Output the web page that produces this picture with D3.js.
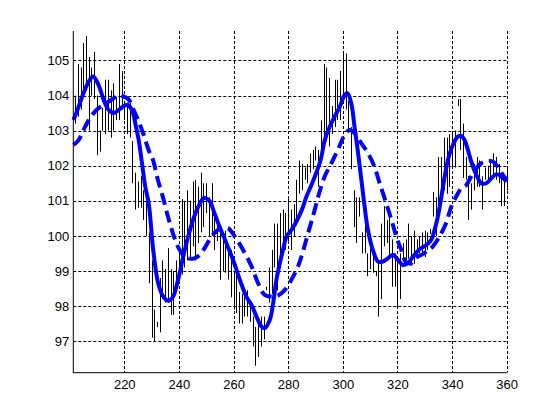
<!DOCTYPE html>
<html>
<head>
<meta charset="utf-8">
<script src="https://cdn.jsdelivr.net/npm/d3@7"></script>
<style>
  body { margin: 0; background: #fff; }
  svg { display: block; }
  .tick text { font-family: "Liberation Sans", Arial, sans-serif; font-size: 13px; fill: #000; }
</style>
</head>
<body>
<div id="chart"></div>
<script>
// daily high / low, first bar is day 202
let firstDay = 202
let highs = [
  104.0, 104.9, 104.8, 105.5, 105.7, 105.1, 104.8, 105.25, 104.0, 103.0,
  103.65, 104.45, 104.45, 104.15, 104.35, 103.95, 104.9, 104.7, 103.85, 103.8,
  103.8, 102.7, 101.8, 101.55, 101.7, 101.3, 101.0, 100.1, 99.3, 97.9,
  97.55, 98.8, 99.3, 99.05, 99.65, 99.05, 99.0, 99.3, 99.6, 101.05,
  101.0, 101.3, 101.0, 101.55, 101.6, 101.4, 101.8, 101.5, 101.5, 101.1,
  101.5, 100.65, 100.35, 100.25, 99.9, 100.15, 99.75, 99.6, 98.95, 99.2,
  98.4, 98.35, 98.25, 98.45, 98.1, 97.7, 97.4, 97.5, 97.7, 97.7,
  98.55, 99.1, 99.6, 100.35, 100.35, 100.65, 100.75, 100.65, 101.1, 100.75,
  100.9, 101.6, 102.15, 102.05, 101.95, 102.05, 102.35, 102.45, 102.55, 102.45,
  103.3, 104.9, 104.8, 104.5, 103.7, 104.45, 104.45, 104.7, 105.2, 105.2,
  103.85, 103.1, 101.3, 101.1, 101.1, 100.1, 100.65, 99.5, 100.0, 99.6,
  99.0, 99.3, 100.35, 100.85, 100.45, 100.65, 99.9, 99.5, 99.3, 99.5,
  99.8, 99.9, 100.35, 100.0, 100.15, 99.9, 100.0, 100.1, 100.15, 100.1,
  100.2, 101.25, 101.1, 102.25, 102.25, 102.8, 102.8, 102.9, 102.95, 103.0,
  103.9, 103.9, 103.2, 102.25, 101.7, 101.5, 102.05, 102.25, 102.15, 101.7,
  101.95, 102.0, 102.15, 102.35, 102.25, 102.05, 101.8, 101.7, 101.95
]
let lows = [
  103.2, 103.4, 103.6, 104.1, 104.2, 103.0, 104.0, 103.9, 102.3, 102.4,
  103.0, 102.9, 103.0, 102.8, 103.0, 103.3, 103.3, 103.6, 103.3, 102.9,
  102.8, 101.5, 100.75, 100.8, 100.8, 100.45, 100.0, 98.65, 97.1, 97.0,
  97.4, 97.25, 98.2, 98.1, 98.1, 97.75, 97.75, 98.4, 98.75, 98.9,
  99.1, 99.3, 99.4, 99.7, 99.3, 99.8, 100.1, 100.25, 100.65, 100.0,
  100.0, 99.6, 99.85, 98.75, 99.0, 98.95, 98.75, 98.25, 97.9, 97.8,
  97.5, 97.5, 97.7, 97.7, 97.55, 96.85, 96.3, 96.55, 96.85, 97.05,
  98.45, 98.1, 98.35, 99.1, 98.45, 99.4, 99.6, 99.6, 99.8, 99.6,
  100.0, 100.3, 101.2, 101.3, 101.6, 101.5, 101.8, 101.9, 102.15, 101.4,
  102.15, 102.8, 102.7, 102.55, 102.9, 103.1, 103.3, 103.3, 103.8, 103.6,
  103.0, 101.9, 100.25, 99.8, 100.55, 99.5, 99.5, 98.85, 99.05, 98.95,
  98.85, 97.7, 98.2, 99.7, 99.8, 99.4, 98.55, 98.55, 98.0, 98.2,
  99.3, 99.3, 99.35, 99.15, 99.2, 99.4, 99.5, 99.5, 99.4, 99.6,
  100.05, 100.55, 100.0, 100.65, 100.9, 101.3, 101.2, 101.4, 101.95, 101.95,
  103.7, 102.45, 101.65, 101.6, 100.45, 100.75, 101.3, 101.4, 101.4, 100.75,
  101.6, 101.5, 101.6, 101.7, 101.6, 101.5, 100.85, 100.85, 101.3
]

// fast moving average (solid)
let fastDays = [201.4, 203.3, 205.1, 207.0, 208.6, 210.6, 212.5, 214.3, 216.1, 218.0,
  219.8, 221.3, 222.8, 224.3, 225.3, 226.5, 227.7, 229.0, 230.6, 232.4,
  234.3, 236.3, 237.9, 239.7, 241.6, 243.4, 245.2, 247.1, 249.2, 251.2,
  253.0, 254.9, 257.4, 259.8, 262.3, 264.7, 266.6, 268.4, 270.2, 271.4,
  273.3, 274.5, 275.7, 276.9, 278.1, 279.4, 281.2, 283.0, 284.9, 286.7,
  288.5, 290.3, 292.0, 293.4, 295.2, 297.0, 298.9, 300.7, 301.7, 303.1,
  304.3, 305.6, 306.8, 308.0, 309.2, 311.0, 312.9, 314.7, 316.5, 318.3,
  320.2, 322.0, 323.8, 325.7, 328.1, 330.6, 332.4, 333.6, 334.8, 336.1,
  337.3, 338.5, 340.3, 342.1, 343.4, 344.6, 345.8, 347.0, 348.9, 350.7,
  352.5, 354.4, 356.2, 358.0, 360.0]
let fastMA = [103.30, 103.68, 104.07, 104.40, 104.54, 104.30, 103.87, 103.59, 103.50, 103.59,
  103.70, 103.73, 103.59, 103.11, 102.73, 102.07, 101.40, 100.90, 99.60, 98.66,
  98.27, 98.15, 98.27, 98.75, 99.41, 99.98, 100.46, 100.83, 101.08, 101.00,
  100.65, 100.26, 99.79, 99.32, 98.75, 98.27, 98.03, 97.70, 97.42, 97.37,
  97.61, 98.08, 98.75, 99.20, 99.60, 99.98, 100.17, 100.41, 100.72, 101.12,
  101.45, 101.80, 102.20, 102.73, 103.11, 103.40, 103.68, 104.02, 104.07, 103.78,
  103.11, 102.36, 101.60, 100.83, 100.17, 99.60, 99.27, 99.27, 99.36, 99.46,
  99.32, 99.17, 99.22, 99.41, 99.62, 99.74, 99.89, 100.17, 100.55, 101.12,
  101.69, 102.17, 102.59, 102.83, 102.85, 102.73, 102.45, 102.12, 101.74, 101.50,
  101.50, 101.64, 101.76, 101.69, 101.55]

// slow moving average (dashed)
let slowDays = [201.4, 203.3, 205.1, 207.0, 208.8, 210.6, 212.5, 214.3, 216.1, 218.2,
  219.8, 221.6, 223.4, 225.3, 227.1, 228.9, 230.5, 232.3, 234.1, 236.0,
  237.8, 239.6, 241.5, 243.3, 245.7, 247.6, 249.4, 251.2, 253.0, 254.9,
  256.7, 258.0, 260.5, 263.5, 266.6, 269.0, 271.4, 273.9, 276.3, 278.8,
  281.2, 283.6, 285.4, 287.3, 289.4, 291.3, 293.4, 295.8, 298.2, 300.7,
  302.5, 304.3, 306.8, 309.2, 311.6, 313.5, 315.9, 317.8, 319.6, 321.4,
  323.2, 325.1, 326.9, 329.3, 331.5, 333.0, 335.4, 337.8, 339.7, 341.5,
  343.4, 345.2, 347.0, 348.9, 350.7, 352.5, 354.9, 356.7, 358.6, 360.0]
let slowMA = [102.59, 102.73, 103.02, 103.30, 103.50, 103.64, 103.73, 103.83, 103.92, 104.02,
  103.97, 103.89, 103.59, 103.26, 102.88, 102.45, 102.17, 101.60, 101.12, 100.55,
  100.08, 99.70, 99.46, 99.36, 99.36, 99.46, 99.65, 99.89, 100.08, 100.20,
  100.22, 100.22, 99.98, 99.60, 99.13, 98.65, 98.32, 98.27, 98.30, 98.46,
  98.75, 99.13, 99.55, 100.08, 100.65, 101.20, 101.70, 102.07, 102.45, 102.88,
  103.02, 102.93, 102.64, 102.36, 101.97, 101.50, 100.93, 100.46, 99.98, 99.60,
  99.25, 99.22, 99.38, 99.48, 99.60, 99.70, 99.98, 100.36, 100.83, 101.12,
  101.36, 101.45, 101.69, 101.93, 102.07, 102.12, 102.12, 101.97, 101.74, 101.60]

let xTicks = [220, 240, 260, 280, 300, 320, 340, 360]
let yTicks = [97, 98, 99, 100, 101, 102, 103, 104, 105]

let width = 560
let height = 420
let plotLeft = 73.3, plotRight = 506.7, plotTop = 31, plotBottom = 372.7

let svg = d3.select("#chart")
    .append("svg")
    .attr("width", width)
    .attr("height", height)

svg.append("rect").attr("width", width).attr("height", height).attr("fill", "#fff")

let x = d3.scaleLinear().domain([201.35, 360]).range([plotLeft, plotRight])
let y = d3.scaleLinear().domain([96.1, 105.84]).range([plotBottom, plotTop])

// grid
svg.append("g")
    .selectAll("line")
    .data(xTicks)
    .enter()
    .append("line")
    .attr("x1", d => Math.round(x(d)) + 0.5)
    .attr("x2", d => Math.round(x(d)) + 0.5)
    .attr("y1", plotTop)
    .attr("y2", plotBottom)
    .attr("stroke", "#000")
    .attr("stroke-dasharray", "3,2")

svg.append("g")
    .selectAll("line")
    .data(yTicks)
    .enter()
    .append("line")
    .attr("x1", plotLeft)
    .attr("x2", plotRight)
    .attr("y1", d => Math.round(y(d)) + 0.5)
    .attr("y2", d => Math.round(y(d)) + 0.5)
    .attr("stroke", "#000")
    .attr("stroke-dasharray", "3,2")

// high-low bars
svg.append("g")
    .selectAll("line")
    .data(highs)
    .enter()
    .append("line")
    .attr("x1", (d, i) => Math.round(x(firstDay + i)) + 0.5)
    .attr("x2", (d, i) => Math.round(x(firstDay + i)) + 0.5)
    .attr("y1", d => y(d))
    .attr("y2", (d, i) => y(lows[i]))
    .attr("stroke", "#000")
    .attr("stroke-width", 1)

let line = d3.line()
    .x(d => x(d[0]))
    .y(d => y(d[1]))
    .curve(d3.curveCatmullRom)

svg.append("path")
    .datum(d3.zip(fastDays, fastMA))
    .attr("d", line)
    .attr("fill", "none")
    .attr("stroke", "#0000ff")
    .attr("stroke-width", 4)

svg.append("path")
    .datum(d3.zip(slowDays, slowMA))
    .attr("d", line)
    .attr("fill", "none")
    .attr("stroke", "#0000ff")
    .attr("stroke-width", 4)
    .attr("stroke-dasharray", "12,6")

// axes
let xAxis = svg.append("g")
    .attr("transform", "translate(0," + plotBottom + ")")
    .call(d3.axisBottom(x).tickValues(xTicks).tickSize(0).tickPadding(7))
xAxis.select(".domain").remove()

let yAxis = svg.append("g")
    .attr("transform", "translate(" + plotLeft + ",0)")
    .call(d3.axisLeft(y).tickValues(yTicks).tickSize(0).tickPadding(4))
yAxis.select(".domain").remove()

svg.append("line")
    .attr("x1", plotLeft).attr("x2", plotLeft)
    .attr("y1", plotTop).attr("y2", plotBottom + 0.5)
    .attr("stroke", "#000")
svg.append("line")
    .attr("x1", plotLeft).attr("x2", plotRight)
    .attr("y1", plotBottom).attr("y2", plotBottom)
    .attr("stroke", "#000")
</script>
</body>
</html>
